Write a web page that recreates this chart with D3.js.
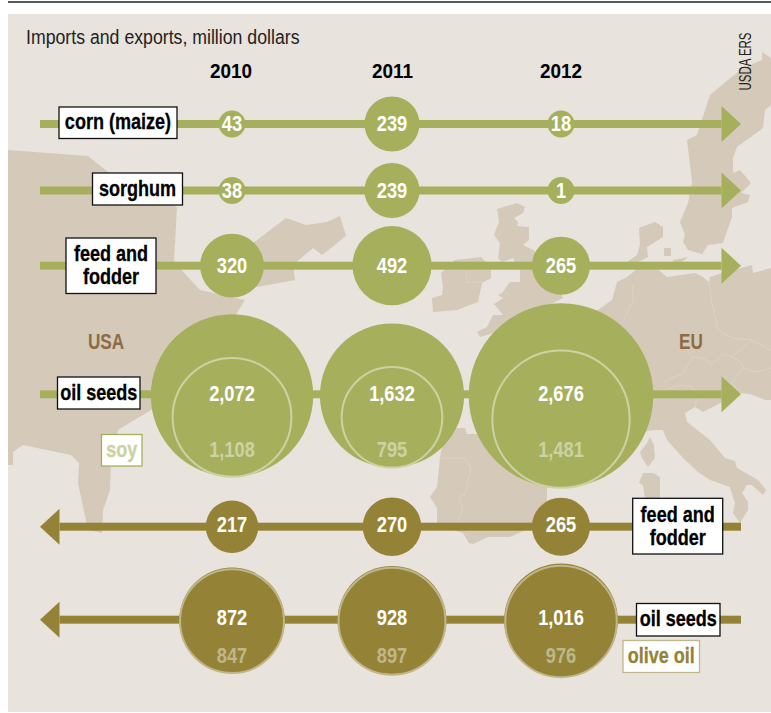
<!DOCTYPE html>
<html>
<head>
<meta charset="utf-8">
<script src="https://cdn.jsdelivr.net/npm/d3@7"></script>
<style>
html, body { margin: 0; padding: 0; background: #fff; }
svg { display: block; }
text { font-family: "Liberation Sans", sans-serif; }
</style>
</head>
<body>
<svg id="chart"></svg>
<script>
// values, million dollars
const years = ["2010", "2011", "2012"];
const corn = [43, 239, 18];
const sorghum = [38, 239, 1];
const feedImports = [320, 492, 265];
const oilSeedsImports = [2072, 1632, 2676];
const soy = [1108, 795, 1481];
const feedExports = [217, 270, 265];
const oilSeedsExports = [872, 928, 1016];
const oliveOil = [847, 897, 976];

const width = 771;
const height = 713;
const green = "#a6b05c";
const brown = "#948337";
const land = "#d5c9ba";
const panel = "#e9e3dd";
const seam = "#ddd4c8";

const svg = d3.select("#chart").attr("width", width).attr("height", height);

// no condensed font on the machine, so squeeze the glyphs
function squeeze(sel, ratio) {
  sel.each(function() {
    this.setAttribute("lengthAdjust", "spacingAndGlyphs");
    this.setAttribute("textLength", this.getComputedTextLength() * ratio);
  });
  return sel;
}

// background map (pixel coordinates)
const usa = [[8,150],[88,156],[108,172],[150,195],[177,207],[174,262],[200,290],[245,300],[237,313],[220,340],[170,395],[151,410],[118,430],[111,460],[110,490],[103,510],[102,533],[88,530],[78,483],[79,463],[71,455],[23,445],[13,452],[13,465],[8,465]];
const maritimes = [[253,243],[286,218],[306,225],[327,222],[340,216],[346,236],[322,255],[313,248],[293,265],[295,280],[257,287],[230,280]];
const ireland = [[441,273],[455,260],[481,257],[491,268],[491,278],[482,283],[478,302],[457,310],[433,312],[432,298],[442,295],[443,287]];
const britain = [[497,209],[517,203],[525,207],[523,213],[514,218],[518,222],[517,226],[529,227],[529,240],[523,245],[533,250],[548,262],[563,298],[553,303],[545,318],[505,330],[480,337],[477,332],[487,327],[493,315],[503,315],[495,305],[493,305],[503,298],[498,295],[502,293],[510,282],[520,282],[520,270],[515,262],[513,258],[502,262],[498,258],[500,243],[494,235],[499,222]];
const iberia = [[440,458],[443,440],[457,428],[465,428],[467,434],[477,434],[510,440],[547,487],[547,522],[530,528],[510,537],[488,537],[473,544],[469,543],[463,533],[453,530],[437,523],[437,508],[430,497],[437,487]];
const corsica = [[650,437],[654,445],[655,458],[648,467],[642,458],[640,452],[647,443]];
const sardinia = [[643,473],[653,473],[660,477],[660,498],[645,498],[643,485],[639,483]];
const scandinavia = [[762,52],[771,58],[771,105],[765,110],[763,128],[737,147],[733,158],[733,173],[740,170],[751,183],[741,193],[750,195],[748,202],[732,208],[732,217],[723,243],[708,245],[702,254],[688,250],[683,242],[685,235],[680,222],[688,203],[692,182],[687,140],[697,135],[710,95],[728,80],[743,68],[762,60]];
const denmark = [[639,228],[655,222],[663,227],[663,237],[647,247],[648,257],[638,262],[627,262],[637,255],[640,245]];
const zealand = [[664,248],[671,248],[671,256],[664,256]];
const funen = [[673,260],[688,257],[673,270]];
const continent = [[598,310],[612,300],[617,282],[627,277],[638,268],[653,265],[667,277],[695,273],[703,277],[709,282],[710,277],[722,273],[752,265],[753,273],[771,268],[771,400],[765,400],[750,394],[740,393],[703,412],[695,407],[685,413],[687,422],[710,440],[725,458],[735,461],[737,468],[758,480],[766,490],[763,495],[752,485],[747,485],[742,493],[748,502],[748,510],[740,523],[733,513],[735,503],[730,487],[710,480],[698,472],[683,458],[667,440],[663,430],[653,430],[600,440],[560,420],[560,340]];
const borders = [
  [[633,283],[633,300],[623,323]],
  [[709,282],[712,303],[718,330],[732,338],[752,340]],
  [[685,347],[693,357],[683,373],[665,382]],
  [[693,357],[705,359],[711,365],[723,354],[732,357],[752,340],[771,350]],
  [[732,357],[741,362],[743,368],[755,372],[771,368]],
  [[743,368],[732,383],[740,393]],
  [[665,390],[680,385],[692,387],[698,398],[695,407]],
  [[440,458],[465,458],[471,468],[465,495],[459,497],[463,508],[458,523]],
  [[465,260],[467,282],[482,282]]
];

svg.append("rect").attr("x", 8).attr("y", 1).attr("width", width - 8).attr("height", 2).attr("fill", "#5a5a5a");
svg.append("rect").attr("x", 8).attr("y", 14).attr("width", width - 8).attr("height", 698).attr("fill", panel);

const closed = d3.line().curve(d3.curveLinearClosed);
const open = d3.line();
svg.append("g").selectAll("path")
  .data([usa, maritimes, ireland, britain, iberia, corsica, sardinia, scandinavia, denmark, zealand, funen, continent])
  .enter().append("path")
  .attr("d", closed)
  .attr("fill", land);
svg.append("g").selectAll("path")
  .data(borders)
  .enter().append("path")
  .attr("d", open)
  .attr("fill", "none")
  .attr("stroke", seam)
  .attr("stroke-width", 0.8);

// scales
const x = d3.scaleOrdinal().domain(years).range([232, 392, 561]);
const r = d3.scaleSqrt().domain([0, 2676]).range([0, 92.3]);
const minRadius = 13.5;
const radius = v => Math.max(minRadius, r(v));
const fmt = d3.format(",");

const rows = [
  { values: corn, y: 124, dy: 7, color: green, dir: 1 },
  { values: sorghum, y: 190.5, dy: 7, color: green, dir: 1 },
  { values: feedImports, y: 265.7, dy: 7.5, color: green, dir: 1 },
  { values: oilSeedsImports, sub: soy, y: 394.3, cy: 395.5, dy: 7, subDy: 62.5, color: green, dir: 1, ring: "#cbd2a3" },
  { values: feedExports, y: 526.7, dy: 5.5, color: brown, dir: -1 },
  { values: oilSeedsExports, sub: oliveOil, y: 619.7, cy: 620.3, dy: 5.5, subDy: 43, color: brown, dir: -1, ring: "#bfb68a" }
];

const left = 40, right = 741, head = 19.5, headH = 18;

rows.forEach(row => {
  const g = svg.append("g");
  const tip = row.dir > 0 ? right : left;
  const back = tip - row.dir * head;
  g.append("rect")
    .attr("x", row.dir > 0 ? left : back)
    .attr("y", row.y - 4)
    .attr("width", row.dir > 0 ? back - left : right - back)
    .attr("height", 8)
    .attr("fill", row.color);
  g.append("path")
    .attr("d", closed([[tip, row.y], [back, row.y - headH], [back, row.y + headH]]))
    .attr("fill", row.color);

  const cy = row.cy === undefined ? row.y : row.cy;
  const cells = years.map((year, i) => ({ year, v: row.values[i], s: row.sub ? row.sub[i] : null }));
  const cell = g.selectAll("g").data(cells).enter().append("g");
  cell.append("circle")
    .attr("cx", d => x(d.year))
    .attr("cy", cy)
    .attr("r", d => radius(d.v))
    .attr("fill", row.color);
  if (row.sub) {
    // inner circle sits on the bottom of the outer one
    cell.append("circle")
      .attr("cx", d => x(d.year))
      .attr("cy", d => cy + radius(d.v) - radius(d.s))
      .attr("r", d => radius(d.s))
      .attr("fill", "none")
      .attr("stroke", row.ring)
      .attr("stroke-width", 2);
    squeeze(cell.append("text")
      .attr("x", d => x(d.year))
      .attr("y", row.y + row.subDy)
      .attr("text-anchor", "middle")
      .attr("font-size", 22)
      .attr("font-weight", "bold")
      .attr("fill", row.ring)
      .text(d => fmt(d.s)), 0.83);
  }
  squeeze(cell.append("text")
    .attr("x", d => x(d.year))
    .attr("y", row.y + row.dy)
    .attr("text-anchor", "middle")
    .attr("font-size", 22)
    .attr("font-weight", "bold")
    .attr("fill", "#fff")
    .text(d => fmt(d.v)), 0.83);
});

// label boxes
const boxes = [
  { lines: ["corn (maize)"], x0: 59, y0: 107, x1: 177, y1: 138.5, stroke: "#111", fill: "#000" },
  { lines: ["sorghum"], x0: 92.5, y0: 173, x1: 182.5, y1: 205, stroke: "#111", fill: "#000" },
  { lines: ["feed and", "fodder"], x0: 66, y0: 238, x1: 156, y1: 293.5, stroke: "#111", fill: "#000" },
  { lines: ["oil seeds"], x0: 57.5, y0: 377, x1: 140, y1: 409, stroke: "#111", fill: "#000" },
  { lines: ["soy"], x0: 101.5, y0: 434.5, x1: 142, y1: 466, stroke: green, fill: "#cbd2a3" },
  { lines: ["feed and", "fodder"], x0: 632.7, y0: 498.3, x1: 722.7, y1: 554, stroke: "#111", fill: "#000" },
  { lines: ["oil seeds"], x0: 636.5, y0: 603.5, x1: 720, y1: 636, stroke: "#111", fill: "#000" },
  { lines: ["olive oil"], x0: 623, y0: 640.5, x1: 699.5, y1: 672.5, stroke: "#bfb68a", fill: brown }
];
const box = svg.append("g").selectAll("g").data(boxes).enter().append("g");
box.append("rect")
  .attr("x", d => d.x0)
  .attr("y", d => d.y0)
  .attr("width", d => d.x1 - d.x0)
  .attr("height", d => d.y1 - d.y0)
  .attr("fill", "#fff")
  .attr("stroke", d => d.stroke)
  .attr("stroke-width", 1.3);
box.each(function(d) {
  const mid = (d.y0 + d.y1) / 2;
  d.lines.forEach((line, i) => {
    squeeze(d3.select(this).append("text")
      .attr("x", (d.x0 + d.x1) / 2)
      .attr("y", mid + 6.5 + (d.lines.length - 1) * 0.5 + (i - (d.lines.length - 1) / 2) * 23)
      .attr("text-anchor", "middle")
      .attr("font-size", 22)
      .attr("font-weight", "bold")
      .attr("fill", d.fill)
      .attr("stroke", d.fill)
      .attr("stroke-width", 0.3)
      .text(line), 0.82);
  });
});

// titles
squeeze(svg.append("text").attr("x", 26).attr("y", 44).attr("font-size", 20).attr("fill", "#222")
  .text("Imports and exports, million dollars"), 0.885);
const yearNudge = [-1, 0.5, 0];
squeeze(svg.append("g").selectAll("text").data(years).enter().append("text")
  .attr("x", (d, i) => x(d) + yearNudge[i])
  .attr("y", 78)
  .attr("text-anchor", "middle")
  .attr("font-size", 21)
  .attr("font-weight", "bold")
  .attr("fill", "#000")
  .text(d => d), 0.9);
svg.append("text")
  .attr("transform", "translate(750.5,90.5) rotate(-90)")
  .attr("font-size", 16)
  .attr("fill", "#222")
  .attr("textLength", 58)
  .attr("lengthAdjust", "spacingAndGlyphs")
  .text("USDA ERS");
squeeze(svg.append("text").attr("x", 106).attr("y", 349).attr("text-anchor", "middle")
  .attr("font-size", 22).attr("font-weight", "bold").attr("fill", "#8d6c45").text("USA"), 0.78);
squeeze(svg.append("text").attr("x", 691).attr("y", 349).attr("text-anchor", "middle")
  .attr("font-size", 22).attr("font-weight", "bold").attr("fill", "#8d6c45").text("EU"), 0.78);
</script>
</body>
</html>
